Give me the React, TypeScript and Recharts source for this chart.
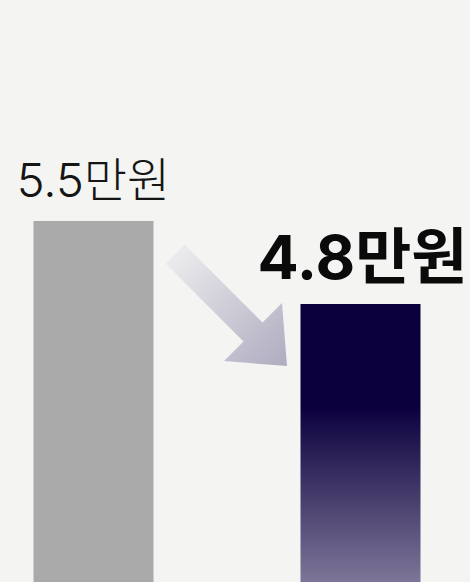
import { BarChart, Bar, Cell, XAxis, YAxis, LabelList } from 'recharts';

const categories = ['before', 'after'];
const values = [5.5, 4.8];
const valueLabels = ['5.5만원', '4.8만원'];
const barColors = ['#aaaaaa', 'url(#afterGrad)'];

const data = categories.map((name, i) => ({
  name,
  value: values[i],
  label: valueLabels[i],
}));

const FONT = "Inter, 'Noto Sans CJK KR', sans-serif";

const renderLabel = (props: any) => {
  const { x, y, width, value } = props;
  const emph = value === valueLabels[1];
  return (
    <text
      x={Number(x) + Number(width) / 2 + (emph ? 2 : 0)}
      y={Number(y) - (emph ? 25 : 24)}
      textAnchor="middle"
      fontFamily={FONT}
      fontSize={emph ? 61 : 47}
      fontWeight={emph ? 700 : 300}
      fill={emph ? '#0a0a0a' : '#151515'}
    >
      {value}
    </text>
  );
};

// decorative arrow between the two bars
const Arrow = () => (
  <svg
    width={470}
    height={582}
    style={{ position: 'absolute', left: 0, top: 0, pointerEvents: 'none' }}
  >
    <defs>
      <linearGradient id="arrowGrad" x1="165" y1="244" x2="287" y2="366" gradientUnits="userSpaceOnUse">
        <stop offset="0%" stopColor="#f1f1f1" />
        <stop offset="100%" stopColor="#aeacc0" />
      </linearGradient>
    </defs>
    <polygon
      points="184.5,244.5 262.5,322.5 282,303 287,366 224,361 243.5,341.5 165.5,263.5"
      fill="url(#arrowGrad)"
    />
  </svg>
);

export default function App() {
  return (
    <div
      style={{
        position: 'relative',
        width: 470,
        height: 582,
        overflow: 'hidden',
        background: '#f4f4f2',
      }}
    >
      <style>{`body{margin:0;background:#f4f4f2}`}</style>
      <BarChart
        width={470}
        height={873}
        data={data}
        margin={{ top: 0, right: -23.5, bottom: 0, left: -40.5 }}
        barCategoryGap={0}
      >
        <defs>
          <linearGradient id="afterGrad" x1="0" y1="0" x2="0" y2="1">
            <stop offset="0%" stopColor="#0b003d" />
            <stop offset="18%" stopColor="#0b003d" />
            <stop offset="49%" stopColor="#7e7698" />
            <stop offset="100%" stopColor="#d6d2e2" />
          </linearGradient>
        </defs>
        <XAxis dataKey="name" hide />
        <YAxis hide domain={[0, 7.364]} />
        <Bar dataKey="value" barSize={120} isAnimationActive={false}>
          {data.map((_d, i) => (
            <Cell key={`cell-${i}`} fill={barColors[i]} />
          ))}
          <LabelList dataKey="label" content={renderLabel} />
        </Bar>
      </BarChart>
      <Arrow />
    </div>
  );
}
